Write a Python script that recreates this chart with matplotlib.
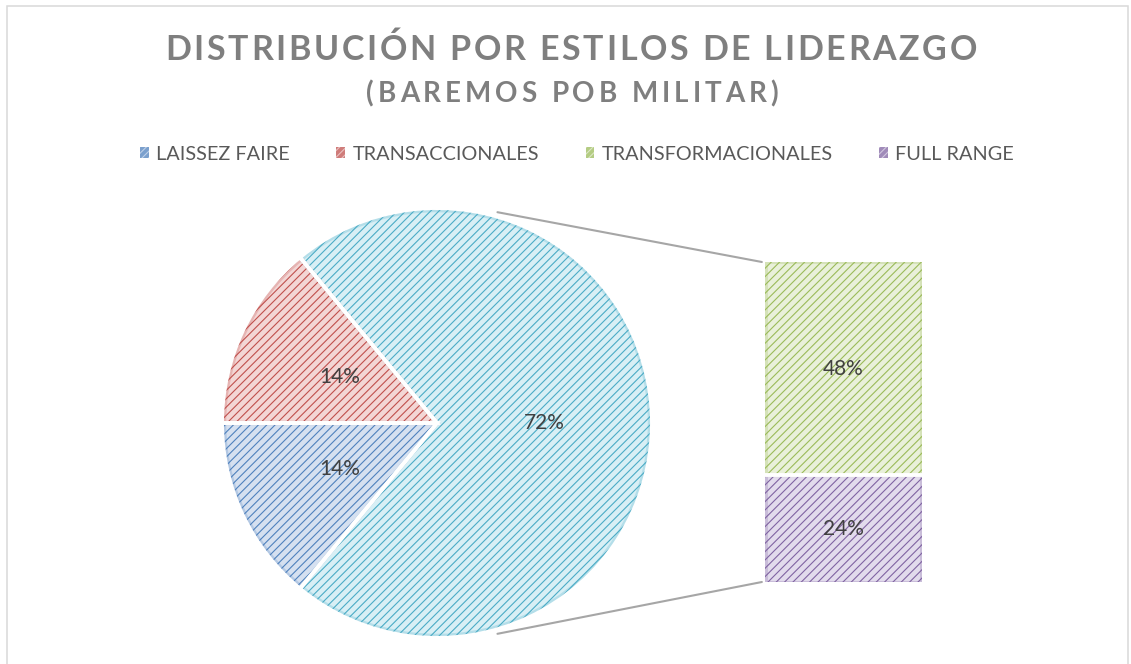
import matplotlib
matplotlib.use("Agg")
import matplotlib.pyplot as plt
import numpy as np
from matplotlib.patches import Patch, Rectangle, ConnectionPatch
from matplotlib.font_manager import findfont, FontProperties
from matplotlib.ft2font import FT2Font

# ---------------- data ----------------
title_line1 = "DISTRIBUCIÓN POR ESTILOS DE LIDERAZGO"
title_line2 = "(BAREMOS POB MILITAR)"
pie_labels = ["TRANSACCIONALES", "LAISSEZ FAIRE", "OTROS"]
pie_values = [14, 14, 72]
bar_labels = ["FULL RANGE", "TRANSFORMACIONALES"]
bar_values = [24, 48]
legend_labels = ["LAISSEZ FAIRE", "TRANSACCIONALES", "TRANSFORMACIONALES", "FULL RANGE"]

# ---------------- styles ----------------
fills = {
    "LAISSEZ FAIRE": "#d5e0f0",
    "TRANSACCIONALES": "#f3d6d5",
    "OTROS": "#d8eff5",
    "TRANSFORMACIONALES": "#e9f0da",
    "FULL RANGE": "#e2dbec",
}
hatches = {
    "LAISSEZ FAIRE": "#4f81bd",
    "TRANSACCIONALES": "#c0504d",
    "OTROS": "#4bacc6",
    "TRANSFORMACIONALES": "#9bbb59",
    "FULL RANGE": "#8064a2",
}
HATCH = "////"

plt.rcParams["font.family"] = ["Lato", "DejaVu Sans"]
plt.rcParams["hatch.linewidth"] = 0.8

W, H = 1131, 664
fig = plt.figure(figsize=(W / 100, H / 100), dpi=100)
fig.patch.set_facecolor("white")

# outer chart border
fig.patches.append(Rectangle((7 / W, -0.01), (1128 - 7) / W, (H - 6) / H + 0.01,
                             transform=fig.transFigure, fill=False,
                             edgecolor="#d9d9d9", linewidth=1.1))

# ---------------- spaced title ----------------
def spaced_text(text, cx, cy, target_w, size, color, weight="bold"):
    fp = FontProperties(family="Lato", weight=weight)
    font = FT2Font(findfont(fp))
    font.set_size(size, 100)
    adv = []
    for ch in text:
        g = font.load_char(ord(ch))
        adv.append(g.linearHoriAdvance / 65536.0)
    natural = sum(adv)
    sp = (target_w - natural) / (len(text) - 1)
    x = cx - target_w / 2
    for ch, a in zip(text, adv):
        fig.text(x / W, 1 - cy / H, ch, fontsize=size, fontweight=weight,
                 color=color, ha="left", va="center", family="Lato")
        x += a + sp

spaced_text(title_line1, 571, 50, 812, 24.5, "#7f7f7f")
spaced_text(title_line2, 572, 94, 412, 20, "#7f7f7f")

# ---------------- pie ----------------
pie_ax = fig.add_axes([222 / W, (H - 638) / H, 430 / W, 430 / H])
total = sum(pie_values)
start = 180 - 360 * pie_values[0] / total
wedges, texts, autotexts = pie_ax.pie(
    pie_values, startangle=start, counterclock=True,
    colors=[fills[l] for l in pie_labels],
    autopct="%1.0f%%", pctdistance=0.5,
    textprops=dict(fontsize=15, color="#404040"))
for w, l in zip(wedges, pie_labels):
    w.set_edgecolor(hatches[l])
    w.set_hatch(HATCH)
    w.set_linewidth(0)
# soft inner edge
glow, _ = pie_ax.pie(pie_values, startangle=start, counterclock=True, radius=0.99,
                     colors=["none"] * 3,
                     wedgeprops=dict(linewidth=3.0, fill=False))
for g, l in zip(glow, pie_labels):
    g.set_edgecolor(hatches[l])
    g.set_alpha(0.25)
sep, _ = pie_ax.pie(pie_values, startangle=start, counterclock=True,
                    colors=["none"] * 3,
                    wedgeprops=dict(edgecolor="white", linewidth=2.8, fill=False))
pie_ax.set_xlim(-1, 1)
pie_ax.set_ylim(-1, 1)
pie_ax.axis("off")

# ---------------- bar ----------------
bar_ax = fig.add_axes([765 / W, (H - 582) / H, 157 / W, 320 / H])
bottom = 0
for v, l in zip(bar_values, bar_labels):
    bar_ax.bar(0, v, width=1, bottom=bottom, color=fills[l],
               edgecolor=hatches[l], hatch=HATCH, linewidth=0)
    bar_ax.bar(0, v, width=0.985, bottom=bottom, fill=False,
               edgecolor=hatches[l], linewidth=2.2, alpha=0.25)
    bar_ax.text(0, bottom + v / 2, f"{v}%", ha="center", va="center",
                fontsize=15, color="#404040")
    bottom += v
bar_ax.axhline(bar_values[0], color="white", linewidth=2.8)
bar_ax.set_xlim(-0.5, 0.5)
bar_ax.set_ylim(0, sum(bar_values))
bar_ax.axis("off")

# ---------------- connectors ----------------
conn_angle = np.deg2rad(74)
r = 1.02
for sgn, ybar in [(1, sum(bar_values)), (-1, 0)]:
    cp = ConnectionPatch(xyA=(r * np.cos(conn_angle), sgn * r * np.sin(conn_angle)),
                         coordsA=pie_ax.transData,
                         xyB=(-0.52, ybar), coordsB=bar_ax.transData,
                         color="#a6a6a6", linewidth=1.5)
    fig.add_artist(cp)

# ---------------- legend ----------------
handles = [Patch(facecolor=hatches[l], edgecolor=fills[l], hatch="/////", linewidth=0, alpha=0.75)
           for l in legend_labels]
fig.legend(handles, legend_labels, loc="center", bbox_to_anchor=(577 / W, 1 - 154 / H),
           ncol=4, frameon=False, fontsize=14.3, labelcolor="#595959",
           handlelength=0.45, handleheight=0.45, handletextpad=0.35,
           columnspacing=2.35)

fig.savefig("out.png", dpi=100, facecolor="white")
